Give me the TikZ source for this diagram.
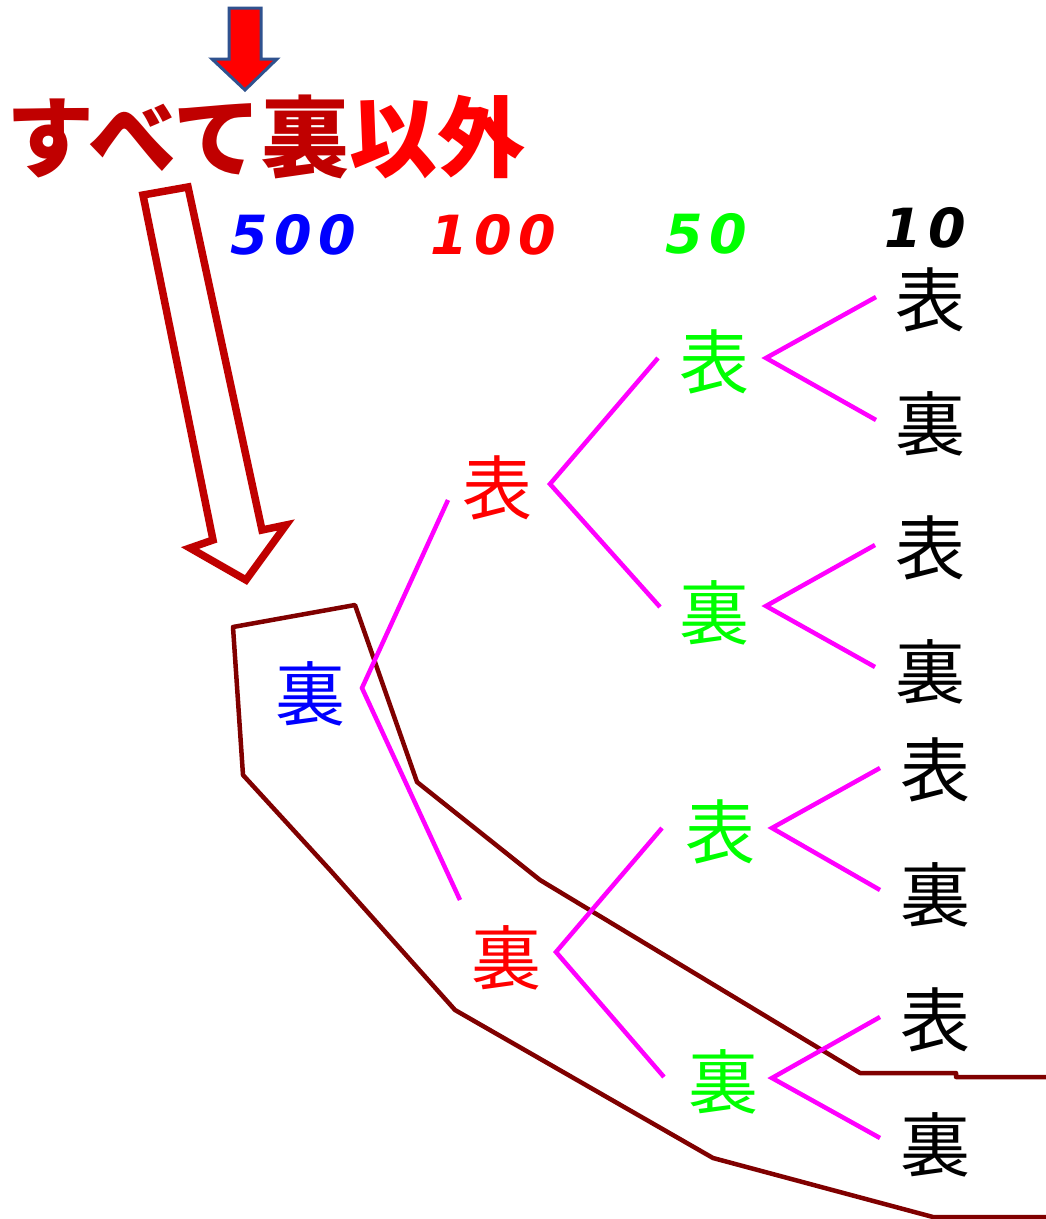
\documentclass[tikz,border=0pt]{standalone}
\usepackage{fontspec}
\newfontfamily\cjk{Noto Sans CJK JP}
\newfontfamily\numfont{DejaVu Sans}[LetterSpace=12]
\definecolor{titledark}{HTML}{C00000}
\definecolor{arrowblue}{HTML}{2F528F}
\definecolor{maroonline}{HTML}{800000}
\definecolor{mag}{RGB}{255,0,255}
\definecolor{pureblue}{RGB}{0,0,255}
\definecolor{purered}{RGB}{255,0,0}
\definecolor{puregreen}{RGB}{0,255,0}
\tikzset{
  cell/.style={inner sep=0pt, font=\cjk\fontsize{70}{70}\selectfont},
  hdr/.style={inner sep=0pt, font=\numfont\bfseries\itshape\fontsize{54}{54}\selectfont},
  branch/.style={draw=mag, line width=4.5pt, line join=miter},
  bound/.style={draw=maroonline, line width=4.5pt, line join=round},
}
\begin{document}
\begin{tikzpicture}[x=1pt,y=-1pt]
\useasboundingbox (0,0) rectangle (1046,1219);
\fill[white] (0,0) rectangle (1046,1219);

% red down arrow
\draw[fill=purered, draw=arrowblue, line width=3pt, line join=miter]
  (229,8) -- (261,8) -- (261,59) -- (277,59) -- (245,90) -- (212,59) -- (229,59) -- cycle;

% title
\node[inner sep=0pt, font=\cjk\bfseries\fontsize{88}{88}\selectfont] (title) at (266,137)
  {\textcolor{titledark}{すべて裏}\textcolor{purered}{以外}};

% hollow arrow
\draw[draw=titledark, line width=7.5pt, fill=white, line join=miter]
  (143,195) -- (188,187) -- (262,530) -- (286,525) -- (246,580) -- (190,548) -- (213,540) -- cycle;

% headers
\node[hdr, text=pureblue] (h500) at (293,235) {500};
\node[hdr, text=purered] (h100) at (493,235) {100};
\node[hdr, text=puregreen] (h50) at (706,234) {50};
\node[hdr, text=black] (h10) at (925,228) {10};

% boundary
\draw[bound] (1046,1077) -- (956,1077) -- (956,1073) -- (860,1073) -- (540,880) -- (417,782)
  -- (355,605) -- (233,627) -- (243,775) -- (330,870) -- (455,1010) -- (713,1158)
  -- (933,1217) -- (1046,1217);

% tree nodes
\node[cell, text=pureblue] (root) at (310,694) {裏};
\node[cell, text=purered] (r1) at (497,488) {表};
\node[cell, text=purered] (r2) at (506,958) {裏};
\node[cell, text=puregreen] (g1) at (714,362) {表};
\node[cell, text=puregreen] (g2) at (714,613) {裏};
\node[cell, text=puregreen] (g3) at (720,832) {表};
\node[cell, text=puregreen] (g4) at (723,1082) {裏};
\node[cell] (b1) at (930,300) {表};
\node[cell] (b2) at (930,424) {裏};
\node[cell] (b3) at (930,548) {表};
\node[cell] (b4) at (930,672) {裏};
\node[cell] (b5) at (935,770) {表};
\node[cell] (b6) at (935,895) {裏};
\node[cell] (b7) at (935,1020) {表};
\node[cell] (b8) at (935,1145) {裏};

% branch coordinates
\coordinate (v0) at (362,688);
\coordinate (v0a) at (448,500);
\coordinate (v0b) at (460,900);
\coordinate (v1) at (550,484);
\coordinate (v1a) at (658,358);
\coordinate (v1b) at (660,607);
\coordinate (v2) at (556,952);
\coordinate (v2a) at (662,828);
\coordinate (v2b) at (664,1077);
\coordinate (v3) at (766,358);
\coordinate (v3a) at (876,297);
\coordinate (v3b) at (876,420);
\coordinate (v4) at (766,606);
\coordinate (v4a) at (875,545);
\coordinate (v4b) at (875,667);
\coordinate (v5) at (772,828);
\coordinate (v5a) at (880,768);
\coordinate (v5b) at (880,890);
\coordinate (v6) at (772,1078);
\coordinate (v6a) at (880,1017);
\coordinate (v6b) at (880,1138);

\draw[branch] (v0a) -- (v0) -- (v0b);
\draw[branch] (v1a) -- (v1) -- (v1b);
\draw[branch] (v2a) -- (v2) -- (v2b);
\draw[branch] (v3a) -- (v3) -- (v3b);
\draw[branch] (v4a) -- (v4) -- (v4b);
\draw[branch] (v5a) -- (v5) -- (v5b);
\draw[branch] (v6a) -- (v6) -- (v6b);
\end{tikzpicture}
\end{document}
